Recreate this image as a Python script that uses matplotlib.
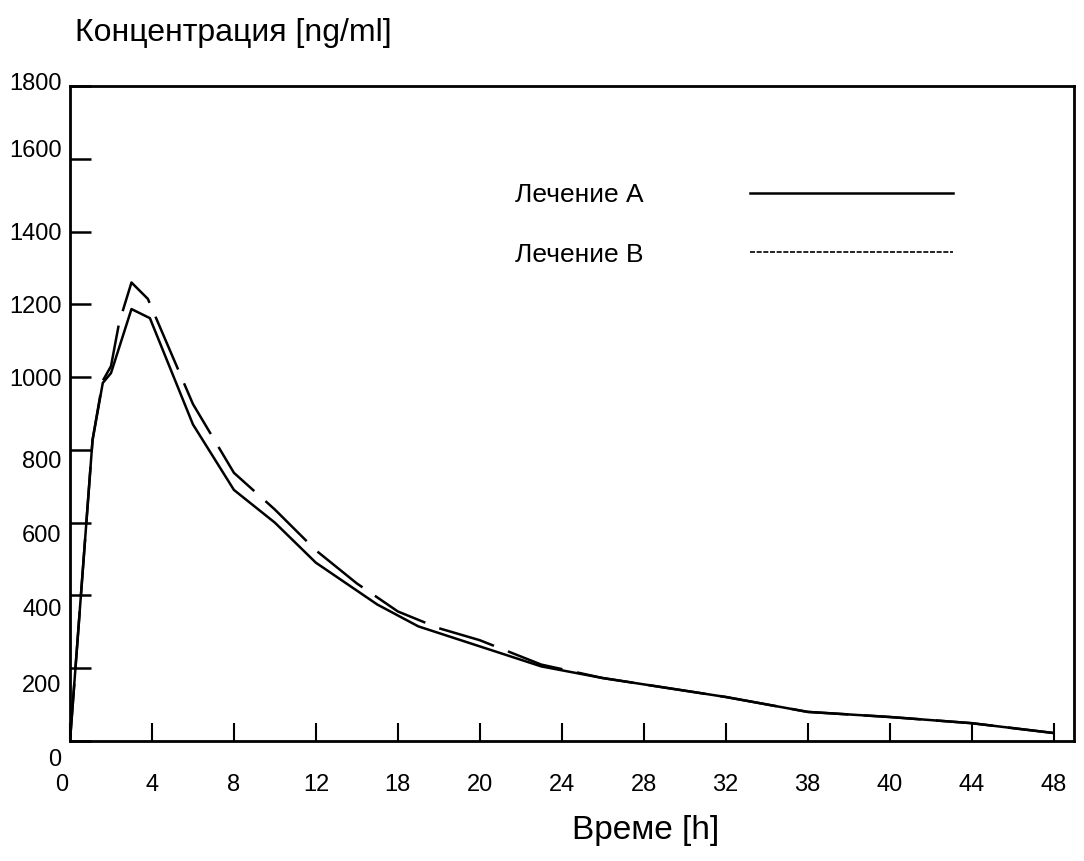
import matplotlib
matplotlib.use("Agg")
import matplotlib.pyplot as plt
from matplotlib.lines import Line2D
from matplotlib.transforms import ScaledTranslation

plt.rcParams['font.family'] = ['Liberation Sans', 'DejaVu Sans']

# Data (x in evenly spaced axis units; tick labels as printed)
tick_pos = [0, 4, 8, 12, 16, 20, 24, 28, 32, 36, 40, 44, 48]
tick_labels = ["0", "4", "8", "12", "18", "20", "24", "28", "32", "38", "40", "44", "48"]
y_ticks = [0, 200, 400, 600, 800, 1000, 1200, 1400, 1600, 1800]

time_a = [0, 1.1, 1.6, 2.0, 3.0, 3.9, 6, 8, 10, 12, 15, 17, 20, 23, 26, 32, 36, 40, 44, 48]
conc_a = [0, 827, 984, 1011, 1187, 1162, 870, 690, 600, 490, 375, 315, 260, 205, 173, 121, 80, 66, 49, 22]

time_b = [0, 1.1, 1.6, 2.0, 2.4, 3.0, 3.8, 6, 8, 10, 12, 14, 16, 18, 20, 23, 26, 32, 36, 40, 44, 48]
conc_b = [0, 827, 990, 1030, 1150, 1260, 1215, 926, 737, 636, 524, 433, 356, 310, 277, 210, 173, 121, 80, 66, 49, 22]

label_a = "Лечение А"
label_b = "Лечение B"
y_title = "Концентрация [ng/ml]"
x_title = "Време [h]"

fig = plt.figure(figsize=(10.84, 8.61), dpi=100)
ax = fig.add_axes([70/1084, 1-741/861, (1074-70)/1084, (741-86)/861])

ax.plot(time_a, conc_a, color='black', lw=1.8, solid_joinstyle='round')
ax.plot(time_b, conc_b, color='black', lw=1.8, linestyle=(0, (23, 6)))

ax.set_xlim(0, 49)
ax.set_ylim(0, 1800)
ax.set_xticks(tick_pos)
ax.set_xticklabels(tick_labels)
ax.set_yticks(y_ticks)
ax.tick_params(axis='x', direction='in', length=13, width=1.5, pad=24, labelsize=17)
ax.tick_params(axis='y', direction='in', length=15, width=1.8, pad=6, labelsize=17)
for s in ax.spines.values():
    s.set_linewidth(2.0)

# slight vertical drift of the printed y labels (pixels, positive = down)
y_label_shift = [16, 15, 12, 11, 10, 0, 0, 0, -10, -5]
for lab, dy in zip(ax.get_yticklabels(), y_label_shift):
    lab.set_transform(lab.get_transform() + ScaledTranslation(0, -dy/100, fig.dpi_scale_trans))
xlabs = ax.get_xticklabels()
xlabs[0].set_transform(xlabs[0].get_transform() + ScaledTranslation(-8/100, 0, fig.dpi_scale_trans))

handles = [Line2D([], [], color='black', lw=1.8),
           Line2D([], [], color='black', lw=1.2, linestyle=(0, (3, 1)))]
ax.legend(handles, [label_a, label_b], loc='upper left', bbox_to_anchor=(0.443, 0.852),
          frameon=False, markerfirst=False, fontsize=19, handlelength=7.7,
          handletextpad=4.05, labelspacing=1.35, borderpad=0, borderaxespad=0)

fig.text(75/1084, 1-33/861, y_title, fontsize=23, ha='left', va='center')
fig.text(646/1084, 1-830/861, x_title, fontsize=24, ha='center', va='center')

fig.savefig("out.png", dpi=100, facecolor='white')
